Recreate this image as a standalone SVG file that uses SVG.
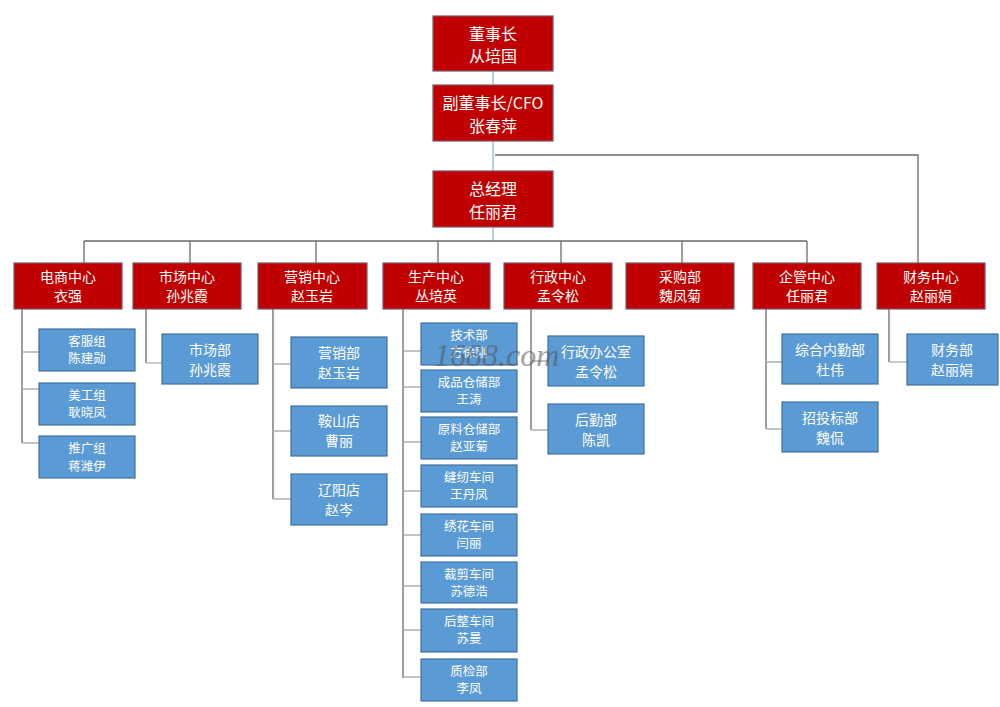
<svg xmlns="http://www.w3.org/2000/svg" width="1000" height="707" viewBox="0 0 1000 707">
<style>
.r{fill:#C00000;stroke:#7A5868;stroke-width:1.2}
.b{fill:#5B9BD5;stroke:#41719C;stroke-width:1.2}
text{font-family:"Noto Sans CJK SC","Noto Sans",sans-serif;fill:#fff;text-anchor:middle}
.tt{font-size:16px}
.tr{font-size:14px}
.tb{font-size:14px}
.ts{font-size:12.5px}
.main{stroke:#6b6b6b;stroke-width:1.3;fill:none}
.tick{stroke:#b0b0b0;stroke-width:1.3;fill:none}
.stem{stroke:#AFC3DA;stroke-width:1.6;fill:none}
.wm{font-family:"Liberation Serif",serif;font-style:italic;font-size:32px;fill:#555;opacity:0.55;text-anchor:start}
</style>
<rect width="1000" height="707" fill="#fff"/>
<g id="connectors">
<path class="stem" d="M493 71V85M493 141V171M493 227V241"/>
<path class="main" d="M495 155H918V263"/>
<path class="main" d="M84 241H807M84 241V263M190 241V263M316 241V263M438 241V263M561 241V263M682 241V263M807 241V263"/>
<path class="main" d="M22 309V443M146 309V363M273 309V499M403 309V678M531 309V430M766 309V429M889 309V362"/>
<path class="tick" d="M22 352H39M22 389H39M22 443H39"/>
<path class="tick" d="M146 363H162"/>
<path class="tick" d="M273 364H291M273 431H291M273 499H291"/>
<path class="tick" d="M403 351H421M403 387H421M403 442H421M403 491H421M403 535H421M403 586H421M403 630H421M403 677H421"/>
<path class="tick" d="M531 361H548M531 430H548"/>
<path class="tick" d="M766 362H782M766 429H782"/>
<path class="tick" d="M889 362H907"/>
</g>
<g id="n-chairman"><rect class="r" x="433" y="16" width="120" height="55"/><text class="tt" x="493" y="40">董事长</text><text class="tt" x="493" y="62">从培国</text></g>
<g id="n-vice"><rect class="r" x="433" y="85" width="120" height="56"/><text class="tt" x="493" y="109">副董事长/CFO</text><text class="tt" x="493" y="132">张春萍</text></g>
<g id="n-gm"><rect class="r" x="433" y="171" width="120" height="56"/><text class="tt" x="493" y="195">总经理</text><text class="tt" x="493" y="218">任丽君</text></g>

<g id="n-ds"><rect class="r" x="14" y="263" width="108" height="46"/><text class="tr" x="68" y="282">电商中心</text><text class="tr" x="68" y="301">衣强</text></g>
<g id="n-sc"><rect class="r" x="133" y="263" width="108" height="46"/><text class="tr" x="187" y="282">市场中心</text><text class="tr" x="187" y="301">孙兆霞</text></g>
<g id="n-yx"><rect class="r" x="258" y="263" width="109" height="46"/><text class="tr" x="312" y="282">营销中心</text><text class="tr" x="312" y="301">赵玉岩</text></g>
<g id="n-scz"><rect class="r" x="383" y="263" width="107" height="46"/><text class="tr" x="436" y="282">生产中心</text><text class="tr" x="436" y="301">丛培英</text></g>
<g id="n-xz"><rect class="r" x="504" y="263" width="108" height="46"/><text class="tr" x="558" y="282">行政中心</text><text class="tr" x="558" y="301">孟令松</text></g>
<g id="n-cg"><rect class="r" x="626" y="263" width="108" height="46"/><text class="tr" x="680" y="282">采购部</text><text class="tr" x="680" y="301">魏凤菊</text></g>
<g id="n-qg"><rect class="r" x="753" y="263" width="108" height="46"/><text class="tr" x="807" y="282">企管中心</text><text class="tr" x="807" y="301">任丽君</text></g>
<g id="n-cw"><rect class="r" x="877" y="263" width="108" height="46"/><text class="tr" x="931" y="282">财务中心</text><text class="tr" x="931" y="301">赵丽娟</text></g>

<g id="n-kf"><rect class="b" x="39" y="329" width="96" height="42"/><text class="ts" x="87" y="346">客服组</text><text class="ts" x="87" y="363">陈建勋</text></g>
<g id="n-mg"><rect class="b" x="39" y="383" width="96" height="42"/><text class="ts" x="87" y="400">美工组</text><text class="ts" x="87" y="417">耿晓凤</text></g>
<g id="n-tg"><rect class="b" x="39" y="436" width="96" height="42"/><text class="ts" x="87" y="453">推广组</text><text class="ts" x="87" y="471">蒋潍伊</text></g>

<g id="n-scb"><rect class="b" x="162" y="334" width="96" height="50"/><text class="tb" x="210" y="355">市场部</text><text class="tb" x="210" y="375">孙兆霞</text></g>

<g id="n-yxb"><rect class="b" x="291" y="337" width="96" height="51"/><text class="tb" x="339" y="358">营销部</text><text class="tb" x="339" y="378">赵玉岩</text></g>
<g id="n-as"><rect class="b" x="291" y="406" width="96" height="50"/><text class="tb" x="339" y="426">鞍山店</text><text class="tb" x="339" y="446">曹丽</text></g>
<g id="n-ly"><rect class="b" x="291" y="474" width="96" height="51"/><text class="tb" x="339" y="495">辽阳店</text><text class="tb" x="339" y="515">赵岑</text></g>

<g id="n-js"><rect class="b" x="421" y="323" width="96" height="42"/><text class="ts" x="469" y="340">技术部</text><text class="ts" x="469" y="357">方徐刚</text></g>
<g id="n-cp"><rect class="b" x="421" y="370" width="96" height="42"/><text class="ts" x="469" y="387">成品仓储部</text><text class="ts" x="469" y="404">王涛</text></g>
<g id="n-yl"><rect class="b" x="421" y="417" width="96" height="42"/><text class="ts" x="469" y="434">原料仓储部</text><text class="ts" x="469" y="451">赵亚菊</text></g>
<g id="n-fr"><rect class="b" x="421" y="465" width="96" height="42"/><text class="ts" x="469" y="482">缝纫车间</text><text class="ts" x="469" y="499">王丹凤</text></g>
<g id="n-xh"><rect class="b" x="421" y="514" width="96" height="42"/><text class="ts" x="469" y="531">绣花车间</text><text class="ts" x="469" y="548">闫丽</text></g>
<g id="n-cj"><rect class="b" x="421" y="562" width="96" height="41"/><text class="ts" x="469" y="579">裁剪车间</text><text class="ts" x="469" y="596">苏德浩</text></g>
<g id="n-hz"><rect class="b" x="421" y="609" width="96" height="43"/><text class="ts" x="469" y="626">后整车间</text><text class="ts" x="469" y="643">苏曼</text></g>
<g id="n-zj"><rect class="b" x="421" y="659" width="96" height="42"/><text class="ts" x="469" y="676">质检部</text><text class="ts" x="469" y="693">李凤</text></g>

<g id="n-xzb"><rect class="b" x="548" y="336" width="96" height="50"/><text class="tb" x="596" y="357">行政办公室</text><text class="tb" x="596" y="377">孟令松</text></g>
<g id="n-hq"><rect class="b" x="548" y="404" width="96" height="50"/><text class="tb" x="596" y="425">后勤部</text><text class="tb" x="596" y="445">陈凯</text></g>

<g id="n-zh"><rect class="b" x="782" y="334" width="96" height="50"/><text class="tb" x="830" y="355">综合内勤部</text><text class="tb" x="830" y="375">杜伟</text></g>
<g id="n-zt"><rect class="b" x="782" y="402" width="96" height="50"/><text class="tb" x="830" y="423">招投标部</text><text class="tb" x="830" y="443">魏侃</text></g>

<g id="n-cwb"><rect class="b" x="907" y="334" width="91" height="51"/><text class="tb" x="952" y="355">财务部</text><text class="tb" x="952" y="375">赵丽娟</text></g>

<text class="wm" x="434" y="366">1688.com</text>
</svg>
